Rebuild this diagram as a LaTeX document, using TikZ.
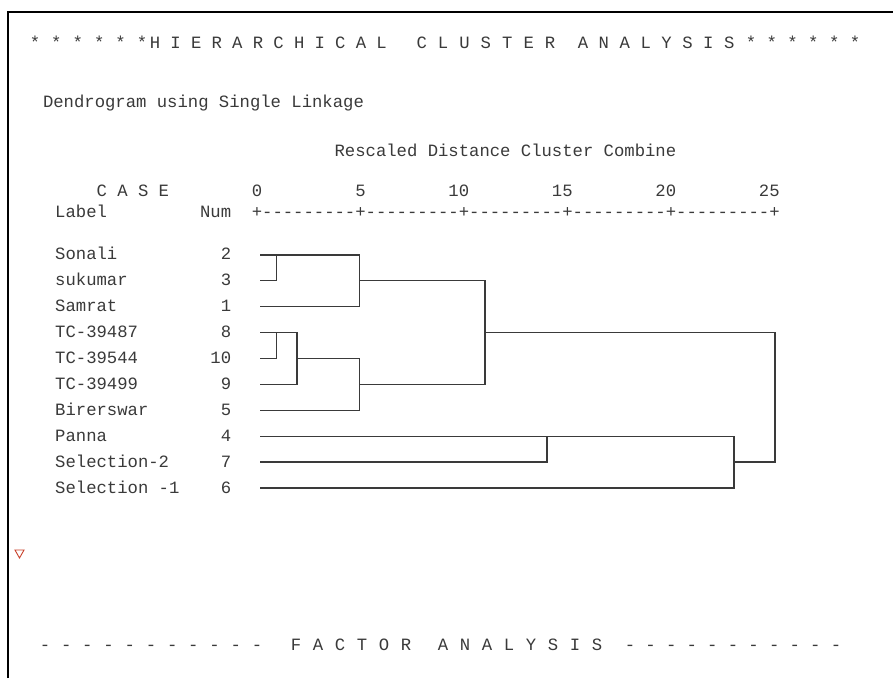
\documentclass[tikz,border=0pt]{standalone}
\usepackage{fontspec}
\setmonofont{Liberation Mono}
\definecolor{ink}{HTML}{3A3A3A}
\definecolor{tri}{HTML}{C8402A}
\begin{document}
\begin{tikzpicture}[x=1pt,y=-1pt,
  txt/.style={inner sep=0pt, outer sep=0pt, text=ink, font=\ttfamily\fontsize{17.25}{20}\selectfont},
  dline/.style={draw=ink, line width=1.3pt, line join=miter},
  frame/.style={draw=black, line width=2.6pt}]
\useasboundingbox (0,0) rectangle (893,678);
\fill[white] (0,0) rectangle (893,678);
\coordinate (fb) at (8,678);
\coordinate (fc) at (8,12);
\coordinate (fr) at (893,12);
\draw[frame] (fb) -- (fc) -- (fr);

% title
\foreach \c [count=\i from 0] in {*,*,*,*,*,*}
  \node[txt, anchor=base] (sl\i) at ({35+21.4*\i},48) {\c};
\foreach \c [count=\i from 0] in {H,I,E,R,A,R,C,H,I,C,A,L}
  \node[txt, anchor=base] (th\i) at ({155+20.6*\i},48) {\c};
\foreach \c [count=\i from 0] in {C,L,U,S,T,E,R}
  \node[txt, anchor=base] (tc\i) at ({421.7+21.4*\i},48) {\c};
\foreach \c [count=\i from 0] in {A,N,A,L,Y,S,I,S}
  \node[txt, anchor=base] (ta\i) at ({583+20.9*\i},48) {\c};
\foreach \c [count=\i from 0] in {*,*,*,*,*,*}
  \node[txt, anchor=base] (sr\i) at ({751+20.8*\i},48) {\c};

\node[txt, anchor=base west] (dendro) at (43,107) {Dendrogram using Single Linkage};
\node[txt, anchor=base west] (resc) at (334.6,156) {Rescaled Distance Cluster Combine};
\node[txt, anchor=base west] (case) at (96.6,196.5) {C A S E};
\node[txt, anchor=base] (n0) at (257,196.5) {0};
\node[txt, anchor=base] (n5) at (360.5,196.5) {5};
\node[txt, anchor=base] (n10) at (458.8,196.5) {10};
\node[txt, anchor=base] (n15) at (562.3,196.5) {15};
\node[txt, anchor=base] (n20) at (665.8,196.5) {20};
\node[txt, anchor=base] (n25) at (769.3,196.5) {25};
\node[txt, anchor=base west] (lab) at (55.2,217.5) {Label};
\node[txt, anchor=base west] (num) at (200.1,217.5) {Num};
\node[txt, anchor=base west] (axis) at (251.8,217.5) {+---------+---------+---------+---------+---------+};

% case labels
\node[txt, anchor=base west] (L0) at (55.2,259.9) {Sonali};
\node[txt, anchor=base west] (L1) at (55.2,285.8) {sukumar};
\node[txt, anchor=base west] (L2) at (55.2,311.7) {Samrat};
\node[txt, anchor=base west] (L3) at (55.2,337.6) {TC-39487};
\node[txt, anchor=base west] (L4) at (55.2,363.5) {TC-39544};
\node[txt, anchor=base west] (L5) at (55.2,389.4) {TC-39499};
\node[txt, anchor=base west] (L6) at (55.2,415.3) {Birerswar};
\node[txt, anchor=base west] (L7) at (55.2,441.2) {Panna};
\node[txt, anchor=base west] (L8) at (55.2,467.1) {Selection-2};
\node[txt, anchor=base west] (L9) at (55.2,493.0) {Selection -1};
\node[txt, anchor=base] (N0) at (226,259.9) {2};
\node[txt, anchor=base] (N1) at (226,285.8) {3};
\node[txt, anchor=base] (N2) at (226,311.7) {1};
\node[txt, anchor=base] (N3) at (226,337.6) {8};
\node[txt, anchor=base] (N4) at (220.8,363.5) {10};
\node[txt, anchor=base] (N5) at (226,389.4) {9};
\node[txt, anchor=base] (N6) at (226,415.3) {5};
\node[txt, anchor=base] (N7) at (226,441.2) {4};
\node[txt, anchor=base] (N8) at (226,467.1) {7};
\node[txt, anchor=base] (N9) at (226,493.0) {6};

% leaf starts
\foreach \i/\y in {0/254.9,1/280.8,2/306.7,3/332.6,4/358.5,5/384.4,6/410.3,7/436.2,8/462.1,9/488.0}
  \coordinate (s\i) at (260,\y);
% merge points
\coordinate (a0) at (276.5,254.9); \coordinate (a1) at (276.5,280.8);
\coordinate (c0) at (359.5,254.9); \coordinate (c1) at (359.5,280.8); \coordinate (c2) at (359.5,306.7);
\coordinate (d1) at (485,280.8); \coordinate (d3) at (485,332.6); \coordinate (d5) at (485,384.4);
\coordinate (b3) at (297,332.6); \coordinate (b4) at (297,358.5); \coordinate (b5) at (297,384.4);
\coordinate (a3) at (276.5,332.6); \coordinate (a4) at (276.5,358.5);
\coordinate (c4) at (359.5,358.5); \coordinate (c5) at (359.5,384.4); \coordinate (c6) at (359.5,410.3);
\coordinate (e7) at (547,436.2); \coordinate (e8) at (547,462.1);
\coordinate (f7) at (734,436.2); \coordinate (f8) at (734,462.1); \coordinate (f9) at (734,488.0);
\coordinate (g3) at (775,332.6); \coordinate (g8) at (775,462.1);

\draw[dline] (s0) -- (c0) -- (c2) -- (s2);
\draw[dline] (a0) -- (a1) -- (s1);
\draw[dline] (c1) -- (d1) -- (d5) -- (c5);
\draw[dline] (s3) -- (b3) -- (b5) -- (s5);
\draw[dline] (a3) -- (a4) -- (s4);
\draw[dline] (b4) -- (c4) -- (c6) -- (s6);
\draw[dline] (d3) -- (g3) -- (g8) -- (f8);
\draw[dline] (s7) -- (f7) -- (f9) -- (s9);
\draw[dline] (e7) -- (e8) -- (s8);

% red marker
\coordinate (t1) at (15,550); \coordinate (t2) at (24,550); \coordinate (t3) at (19.5,558);
\draw[draw=tri, line width=0.9pt, line join=miter] (t1) -- (t2) -- (t3) -- cycle;

% bottom line
\foreach \c [count=\i from 0] in {-,-,-,-,-,-,-,-,-,-,-}
  \node[txt, anchor=base] (bl\i) at ({45+21.2*\i},650) {\c};
\foreach \c [count=\i from 0] in {F,A,C,T,O,R}
  \node[txt, anchor=base] (bf\i) at ({296+22*\i},650) {\c};
\foreach \c [count=\i from 0] in {A,N,A,L,Y,S,I,S}
  \node[txt, anchor=base] (ba\i) at ({443+22*\i},650) {\c};
\foreach \c [count=\i from 0] in {-,-,-,-,-,-,-,-,-,-,-}
  \node[txt, anchor=base] (br\i) at ({630+20.6*\i},650) {\c};
\end{tikzpicture}
\end{document}
